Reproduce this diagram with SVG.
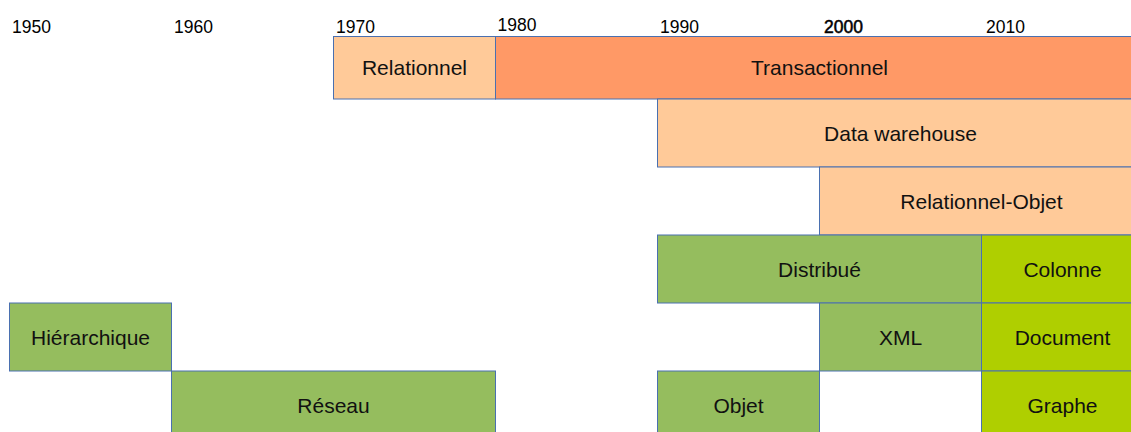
<svg xmlns="http://www.w3.org/2000/svg" width="1131" height="432" viewBox="0 0 1131 432">
<style>
.yr{font-family:"Liberation Sans",Arial,sans-serif;font-size:17.5px;fill:#000}
.lb{font-family:"Liberation Sans",Arial,sans-serif;font-size:21px;fill:#111;text-anchor:middle}
.box{stroke:#4a70b0;stroke-width:1}
.lo{fill:#FFCA99}
.or{fill:#FF9966}
.gr{fill:#95BD5E}
.li{fill:#AFCF00}
</style>
<rect x="0" y="0" width="1131" height="432" fill="#fff"/>
<g id="years">
<text class="yr" x="12" y="33">1950</text>
<text class="yr" x="174" y="33">1960</text>
<text class="yr" x="336" y="33">1970</text>
<text class="yr" x="497.5" y="31">1980</text>
<text class="yr" x="660" y="33">1990</text>
<text class="yr" x="824" y="33" stroke="#000" stroke-width="0.5">2000</text>
<text class="yr" x="986" y="33">2010</text>
</g>
<g id="relationnel"><rect class="box lo" x="333.5" y="36.5" width="162" height="62.5"/><text class="lb" x="414.5" y="75">Relationnel</text></g>
<g id="transactionnel"><rect class="box or" x="495.5" y="36.5" width="648" height="62.5"/><text class="lb" x="819.5" y="75">Transactionnel</text></g>
<g id="datawarehouse"><rect class="box lo" x="657.5" y="99" width="486" height="68"/><text class="lb" x="900.5" y="140.5">Data warehouse</text></g>
<g id="relationnelobjet"><rect class="box lo" x="819.5" y="167" width="324" height="68"/><text class="lb" x="981.5" y="208.5">Relationnel-Objet</text></g>
<g id="distribue"><rect class="box gr" x="657.5" y="235" width="324" height="68"/><text class="lb" x="819.5" y="276.5">Distribué</text></g>
<g id="colonne"><rect class="box li" x="981.5" y="235" width="162" height="68"/><text class="lb" x="1062.5" y="276.5">Colonne</text></g>
<g id="hierarchique"><rect class="box gr" x="9.5" y="303" width="162" height="68"/><text class="lb" x="90.5" y="344.5">Hiérarchique</text></g>
<g id="xml"><rect class="box gr" x="819.5" y="303" width="162" height="68"/><text class="lb" x="900.5" y="344.5">XML</text></g>
<g id="document"><rect class="box li" x="981.5" y="303" width="162" height="68"/><text class="lb" x="1062.5" y="344.5">Document</text></g>
<g id="reseau"><rect class="box gr" x="171.5" y="371" width="324" height="68"/><text class="lb" x="333.5" y="412.5">Réseau</text></g>
<g id="objet"><rect class="box gr" x="657.5" y="371" width="162" height="68"/><text class="lb" x="738.5" y="412.5">Objet</text></g>
<g id="graphe"><rect class="box li" x="981.5" y="371" width="162" height="68"/><text class="lb" x="1062.5" y="412.5">Graphe</text></g>
<g id="connectors"></g>
</svg>
